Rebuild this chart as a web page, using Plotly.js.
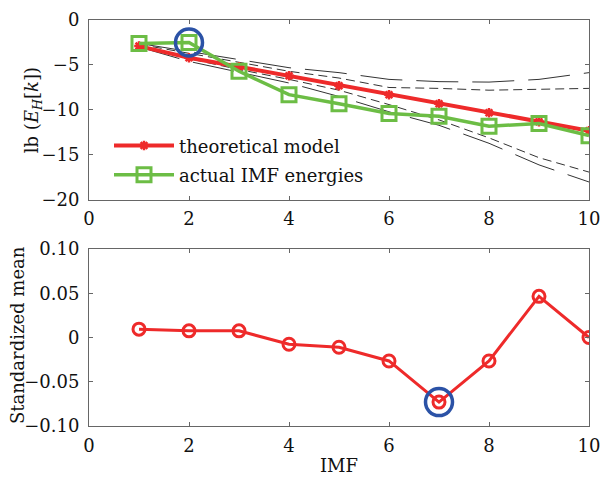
<!DOCTYPE html>
<html>
<head>
<meta charset="utf-8">
<script src="https://cdn.plot.ly/plotly-3.0.1.min.js"></script>
<style>html,body{margin:0;padding:0;background:#fff;}#chart{width:601px;height:477px;}</style>
</head>
<body>
<div id="chart"></div>
<script>
// ---- data ----
const imf = [1, 2, 3, 4, 5, 6, 7, 8, 9, 10];
const theoretical = [-2.9, -4.2, -5.2, -6.2, -7.3, -8.3, -9.3, -10.3, -11.3, -12.3];
const actual = [-2.6, -2.5, -5.7, -8.3, -9.3, -10.4, -10.7, -11.8, -11.5, -12.85];
const upperLong = [-2.6, -3.5, -4.4, -5.3, -5.85, -6.6, -6.85, -6.9, -6.6, -5.85];
const upperShort = [-2.7, -3.7, -4.7, -5.7, -6.45, -7.5, -7.6, -7.8, -7.7, -7.6];
const lowerShort = [-2.9, -4.3, -5.5, -6.6, -7.8, -9.4, -11.1, -13.1, -15.3, -16.9];
const lowerLong = [-3.0, -4.6, -5.8, -7.0, -8.5, -10.2, -11.7, -13.7, -16.1, -18.0];
const stdMean = [0.0094, 0.0075, 0.0075, -0.0076, -0.011, -0.0265, -0.073, -0.0265, 0.0465, 0.0];
const topHighlight = 1;   // index of circled point in top panel
const botHighlight = 6;   // index of circled point in bottom panel
const xTicks = [0, 2, 4, 6, 8, 10];
const topYTicks = [0, -5, -10, -15, -20];
const topYTickText = ['0', '\u22125', '\u221210', '\u221215', '\u221220'];
const botYTicks = [0.10, 0.05, 0, -0.05, -0.10];
const botYTickText = ['0.10', '0.05', '0', '\u22120.05', '\u22120.10'];
const topYTitle = 'lb (<i>E</i><sub><i>H</i></sub>[<i>k</i>])';
const botYTitle = 'Standardized mean';
const xTitle = 'IMF';

const RED = '#ee2a2a', GREEN = '#6cbd45', BLUE = '#2b52a6', DASH = '#333333';
const FONT = 'DejaVu Serif, Liberation Serif, serif';
const FS = 18;

const bandLine = (y, dash) => ({
  x: imf, y: y, xaxis: 'x', yaxis: 'y', mode: 'lines', showlegend: false,
  hoverinfo: 'skip', line: {color: DASH, width: 1, dash: dash}
});

const traces = [
  bandLine(upperLong, '42px,14px'),
  bandLine(upperShort, '9px,5px'),
  bandLine(lowerShort, '9px,5px'),
  bandLine(lowerLong, '42px,14px'),
  {x: imf, y: theoretical, xaxis: 'x', yaxis: 'y', mode: 'lines+markers', name: 'theoretical model', legend: 'legend',
   line: {color: RED, width: 4}, marker: {symbol: 'asterisk-open', size: 8, color: RED, line: {color: RED, width: 2.5}}},
  {x: imf, y: actual, xaxis: 'x', yaxis: 'y', mode: 'lines+markers', name: 'actual IMF energies', legend: 'legend2',
   line: {color: GREEN, width: 3.5}, marker: {symbol: 'square-open', size: 14, color: GREEN, line: {color: GREEN, width: 3}}},
  {x: [imf[topHighlight]], y: [actual[topHighlight]], xaxis: 'x', yaxis: 'y', mode: 'markers', showlegend: false,
   marker: {symbol: 'circle-open', size: 27, color: BLUE, line: {color: BLUE, width: 3.5}}},
  {x: imf, y: stdMean, xaxis: 'x2', yaxis: 'y2', mode: 'lines+markers', showlegend: false,
   line: {color: RED, width: 3}, marker: {symbol: 'circle-open', size: 12, color: RED, line: {color: RED, width: 3}}},
  {x: [imf[botHighlight]], y: [stdMean[botHighlight]], xaxis: 'x2', yaxis: 'y2', mode: 'markers', showlegend: false,
   marker: {symbol: 'circle-open', size: 27, color: BLUE, line: {color: BLUE, width: 3.5}}}
];

const axisBase = {
  showgrid: false, zeroline: false, showline: true, mirror: 'ticks', linecolor: '#666', linewidth: 1,
  ticks: 'inside', ticklen: 4, tickcolor: '#666', tickfont: {family: FONT, size: FS, color: '#111'}
};

const legendBase = {xanchor: 'left', yanchor: 'middle', bgcolor: 'rgba(0,0,0,0)',
  font: {family: FONT, size: FS, color: '#111'}, itemwidth: 60, borderwidth: 0};

const layout = {
  width: 601, height: 477,
  margin: {l: 89, r: 12, t: 20, b: 51},
  paper_bgcolor: '#fff', plot_bgcolor: '#fff',
  font: {family: FONT, color: '#111'},
  showlegend: true,
  legend: Object.assign({}, legendBase, {x: 0.04, y: 0.690}),
  legend2: Object.assign({}, legendBase, {x: 0.04, y: 0.618}),
  xaxis: Object.assign({}, axisBase, {domain: [0, 1], range: [0, 10], tickvals: xTicks, anchor: 'y', ticklabelstandoff: 2}),
  yaxis: Object.assign({}, axisBase, {domain: [0.5567, 1], range: [-20, 0], tickvals: topYTicks, ticktext: topYTickText,
    anchor: 'x', ticklabelstandoff: 5}),
  xaxis2: Object.assign({}, axisBase, {domain: [0, 1], range: [0, 10], tickvals: xTicks, anchor: 'y2', ticklabelstandoff: 3,
    title: {text: xTitle, font: {family: FONT, size: FS, color: '#111'}, standoff: 4}}),
  yaxis2: Object.assign({}, axisBase, {domain: [0, 0.436], range: [-0.10, 0.10], tickvals: botYTicks, ticktext: botYTickText,
    anchor: 'x2', ticklabelstandoff: 5}),
  annotations: [
    {text: topYTitle, xref: 'paper', yref: 'paper', x: -0.112, y: 0.778, xanchor: 'center', yanchor: 'middle',
     textangle: -90, showarrow: false, font: {family: FONT, size: FS, color: '#111'}},
    {text: botYTitle, xref: 'paper', yref: 'paper', x: -0.144, y: 0.224, xanchor: 'center', yanchor: 'middle',
     textangle: -90, showarrow: false, font: {family: FONT, size: FS, color: '#111'}}
  ]
};

Plotly.newPlot('chart', traces, layout, {staticPlot: true, displayModeBar: false});
</script>
</body>
</html>
